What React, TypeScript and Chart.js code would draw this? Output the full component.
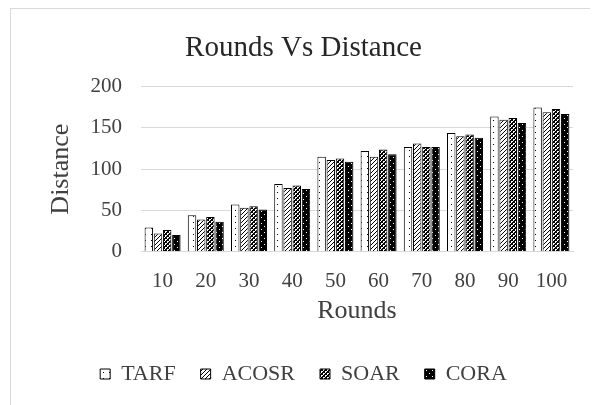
import React, { useEffect, useRef } from 'react';
import { Chart, registerables } from 'chart.js';

Chart.register(...registerables);

const categories = ['10', '20', '30', '40', '50', '60', '70', '80', '90', '100'];
const seriesNames = ['TARF', 'ACOSR', 'SOAR', 'CORA'];
const tarf = [29, 44, 57, 82, 115, 122, 127, 144, 164, 175];
const acosr = [22, 39, 53, 77, 111, 115, 131, 140, 160, 169];
const soar = [26, 42, 55, 80, 113, 124, 127, 142, 162, 173];
const cora = [20, 36, 51, 76, 109, 118, 127, 138, 156, 167];
const yTicks = [0, 50, 100, 150, 200];

const FONT = "'Liberation Serif', 'Times New Roman', serif";

function makePattern(kind: string): CanvasPattern | string {
  const c = document.createElement('canvas');
  const ctx = c.getContext('2d');
  if (!ctx) return '#888';
  if (kind === 'tarf') {
    c.width = 6; c.height = 6;
    ctx.fillStyle = '#fff'; ctx.fillRect(0, 0, 6, 6);
    ctx.fillStyle = '#000'; ctx.fillRect(2, 3, 1, 1);
  } else if (kind === 'acosr') {
    c.width = 4; c.height = 4;
    ctx.fillStyle = '#fff'; ctx.fillRect(0, 0, 4, 4);
    ctx.fillStyle = '#000';
    ctx.fillRect(3, 0, 1, 1); ctx.fillRect(2, 1, 1, 1); ctx.fillRect(1, 2, 1, 1); ctx.fillRect(0, 3, 1, 1);
  } else if (kind === 'soar') {
    c.width = 4; c.height = 4;
    ctx.fillStyle = '#000'; ctx.fillRect(0, 0, 4, 4);
    ctx.fillStyle = '#fff';
    ctx.fillRect(0, 0, 2, 1); ctx.fillRect(0, 1, 1, 1);
    ctx.fillRect(2, 2, 2, 1); ctx.fillRect(2, 3, 1, 1);
  } else {
    c.width = 6; c.height = 6;
    ctx.fillStyle = '#000'; ctx.fillRect(0, 0, 6, 6);
    ctx.fillStyle = '#fff';
    ctx.fillRect(1, 1, 1, 1); ctx.fillRect(4, 4, 1, 1);
  }
  return ctx.createPattern(c, 'repeat') || '#888';
}

export default function App() {
  const ref = useRef<HTMLCanvasElement | null>(null);

  useEffect(() => {
    if (!ref.current) return;
    const fills = [makePattern('tarf'), makePattern('acosr'), makePattern('soar'), makePattern('cora')];
    const values = [tarf, acosr, soar, cora];
    const chart = new Chart(ref.current, {
      type: 'bar',
      data: {
        labels: categories,
        datasets: seriesNames.map((name, i) => ({
          label: name,
          data: values[i],
          backgroundColor: fills[i] as any,
          borderColor: '#000',
          borderWidth: 1,
          categoryPercentage: 0.85,
          barPercentage: 0.92,
        })),
      },
      options: {
        responsive: false,
        animation: false,
        layout: { padding: { left: 0, right: 0, top: 0, bottom: 10 } },
        plugins: {
          title: {
            display: true,
            text: 'Rounds Vs Distance',
            color: '#262626',
            font: { family: FONT, size: 29, weight: 'normal' },
            padding: { top: 22, bottom: 21 },
          },
          legend: {
            position: 'bottom',
            labels: {
              color: '#404040',
              font: { family: FONT, size: 22 },
              boxWidth: 10,
              boxHeight: 10,
              padding: 25,
            },
          },
          tooltip: { enabled: false },
        },
        scales: {
          x: {
            grid: { display: false },
            border: { display: true, color: '#d9d9d9' },
            ticks: { color: '#404040', font: { family: FONT, size: 21 }, padding: 9 },
            title: {
              display: true,
              text: 'Rounds',
              color: '#404040',
              font: { family: FONT, size: 26 },
              padding: { top: 0, bottom: 11 },
            },
            afterFit: (scale: any) => { scale.height = 86.5; },
          },
          y: {
            min: 0,
            max: 200,
            afterBuildTicks: (scale: any) => { scale.ticks = yTicks.map((v) => ({ value: v })); },
            grid: { color: '#d9d9d9', drawTicks: false },
            border: { display: false },
            ticks: { color: '#404040', font: { family: FONT, size: 21 }, padding: 19 },
            title: {
              display: true,
              text: 'Distance',
              color: '#404040',
              font: { family: FONT, size: 26 },
              padding: { top: 35, bottom: 0 },
            },
            afterFit: (scale: any) => { scale.width = 130; },
          },
          rightSpace: {
            type: 'linear',
            position: 'right',
            display: true,
            grid: { display: false },
            border: { display: false },
            ticks: { display: false },
            afterFit: (scale: any) => { scale.width = 23; },
          },
        },
      },
    });
    return () => chart.destroy();
  }, []);

  return (
    <div style={{ marginLeft: 2, width: 586, height: 410, border: '1px solid #d9d9d9', background: '#fff' }}>
      <canvas ref={ref} width={585} height={396} style={{ display: 'block', width: 585, height: 396 }} />
    </div>
  );
}
